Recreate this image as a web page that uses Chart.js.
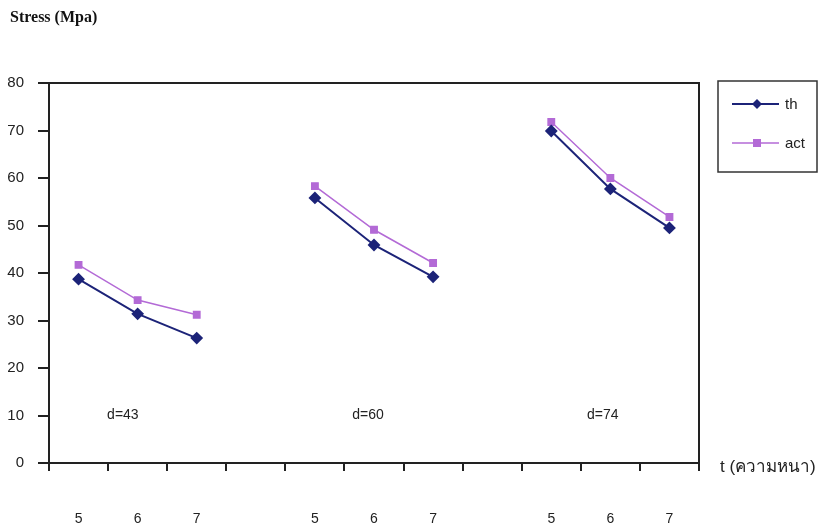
<!DOCTYPE html>
<html lang="th">
<head>
  <meta charset="UTF-8">
  <title>Stress vs t</title>
  <script src="https://cdn.jsdelivr.net/npm/chart.js"></script>
  <style>
    * { margin: 0; padding: 0; box-sizing: border-box; }
    body { background: #fff; width: 824px; height: 529px; overflow: hidden; }
  </style>
</head>
<body>
  <canvas id="stressChart" width="824" height="529"></canvas>

  <script>
    // data (null = gap between d groups)
    const tLabels = ['5', '6', '7', '', '5', '6', '7', '', '5', '6', '7'];
    const thValues  = [38.7, 31.4, 26.3, null, 55.8, 45.9, 39.2, null, 69.9, 57.7, 49.5];
    const actValues = [41.7, 34.3, 31.2, null, 58.3, 49.1, 42.1, null, 71.8, 60.0, 51.8];
    const groupNames = ['d=43', 'd=60', 'd=74'];
    const groupPos   = [0.75, 4.9, 8.87];   // category position of the label
    const groupLevel = 10;                   // y value of the labels
    const yTicks = [0, 10, 20, 30, 40, 50, 60, 70, 80];

    const thColor = '#1c2378';
    const actColor = '#b36ad6';

    // frame, captions and legend drawn on top
    const extras = {
      id: 'extras',
      afterDraw(chart) {
        const c = chart.ctx;
        const a = chart.chartArea;
        const xs = chart.scales.x, ys = chart.scales.y;
        c.save();
        // top and right border of plot
        c.strokeStyle = '#222';
        c.lineWidth = 2;
        c.beginPath();
        c.moveTo(a.left, a.top);
        c.lineTo(a.right, a.top);
        c.lineTo(a.right, a.bottom);
        c.stroke();

        // group labels
        c.fillStyle = '#222';
        c.font = '14px "Liberation Sans", Arial, sans-serif';
        c.textAlign = 'center';
        c.textBaseline = 'middle';
        groupNames.forEach((n, i) => {
          c.fillText(n, xs.getPixelForValue(groupPos[i]), ys.getPixelForValue(groupLevel));
        });

        // axis captions
        c.textAlign = 'left';
        c.fillStyle = '#111';
        c.font = 'bold 16px "Liberation Serif", "DejaVu Serif", serif';
        c.fillText('Stress (Mpa)', 10, 18);
        c.fillStyle = '#222';
        c.font = '17px "Liberation Sans", "Noto Sans", sans-serif';
        c.fillText('t (ความหนา)', 720, 467);

        // legend box
        c.strokeStyle = '#333';
        c.lineWidth = 1.5;
        c.strokeRect(718, 81, 99, 91);
        chart.data.datasets.forEach((ds, i) => {
          const y = 104 + i * 39;
          c.strokeStyle = ds.borderColor;
          c.lineWidth = ds.borderWidth;
          c.beginPath();
          c.moveTo(732, y);
          c.lineTo(779, y);
          c.stroke();
          c.fillStyle = ds.pointBackgroundColor;
          c.beginPath();
          if (ds.pointStyle === 'rectRot') {
            c.moveTo(757, y - 5); c.lineTo(762, y); c.lineTo(757, y + 5); c.lineTo(752, y);
          } else {
            c.rect(753, y - 4, 8, 8);
          }
          c.fill();
          c.fillStyle = '#222';
          c.font = '15px "Liberation Sans", Arial, sans-serif';
          c.fillText(ds.label, 785, y + 1);
        });
        c.restore();
      }
    };

    new Chart(document.getElementById('stressChart'), {
      type: 'line',
      data: {
        labels: tLabels,
        datasets: [{
          label: 'th',
          data: thValues,
          borderColor: thColor,
          backgroundColor: thColor,
          pointBackgroundColor: thColor,
          pointBorderColor: thColor,
          pointStyle: 'rectRot',
          pointRadius: 5,
          borderWidth: 2,
          tension: 0,
          spanGaps: false
        }, {
          label: 'act',
          data: actValues,
          borderColor: actColor,
          backgroundColor: actColor,
          pointBackgroundColor: actColor,
          pointBorderColor: actColor,
          pointStyle: 'rect',
          pointRadius: 4.5,
          borderWidth: 1.5,
          tension: 0,
          spanGaps: false
        }]
      },
      options: {
        responsive: false,
        animation: false,
        layout: { padding: { top: 83, right: 125, left: 0, bottom: 0 } },
        plugins: {
          legend: { display: false },
          tooltip: { enabled: false }
        },
        scales: {
          x: {
            offset: true,
            afterFit: s => { s.height = 66; },
            grid: { offset: true, drawOnChartArea: false, tickLength: 8, color: '#222', lineWidth: 2 },
            border: { color: '#222', width: 2 },
            ticks: { color: '#222', padding: 40, maxRotation: 0, autoSkip: false,
                     font: { family: '"Liberation Sans", Arial', size: 14 } }
          },
          y: {
            min: 0,
            max: 80,
            afterFit: s => { s.width = 49; },
            afterBuildTicks: s => { s.ticks = yTicks.map(v => ({ value: v })); },
            grid: { drawOnChartArea: false, tickLength: 11, color: '#222', lineWidth: 2 },
            border: { color: '#222', width: 2 },
            ticks: { color: '#222', padding: 14,
                     font: { family: '"Liberation Sans", Arial', size: 15 } }
          }
        }
      },
      plugins: [extras]
    });
  </script>
</body>
</html>
